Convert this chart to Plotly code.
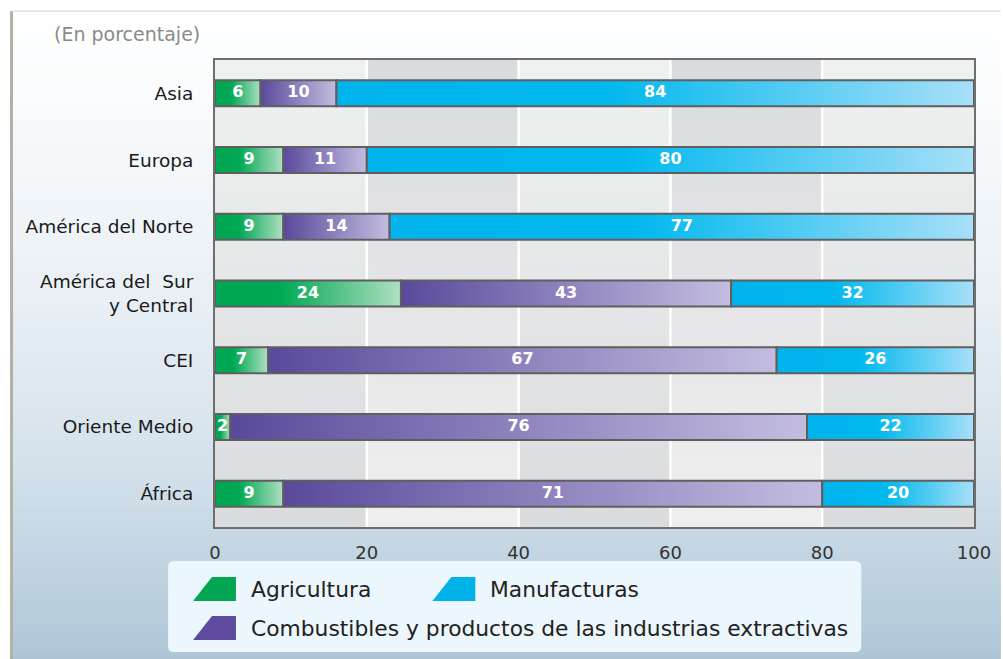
import plotly.graph_objects as go

# ---------------- data ----------------
categories = ["Asia", "Europa", "América del Norte", "América del  Sur<br>y Central",
              "CEI", "Oriente Medio", "África"]
agricultura = [6, 9, 9, 24.5, 7, 2, 9]
combustibles = [10, 11, 14, 43.5, 67, 76, 71]
manufacturas = [84, 80, 77, 32, 26, 22, 20]
agricultura_labels = ["6", "9", "9", "24", "7", "2", "9"]
combustibles_labels = ["10", "11", "14", "43", "67", "76", "71"]
manufacturas_labels = ["84", "80", "77", "32", "26", "22", "20"]
series_names = ["Agricultura", "Combustibles y productos de las industrias extractivas", "Manufacturas"]
x_ticks = [0, 20, 40, 60, 80, 100]
x_ticklabels = ["0", "20", "40", "60", "80", "100"]
unit_note = "(En porcentaje)"

# ---------------- geometry helpers ----------------
W, H = 1003, 659
ML, MR, MT, MB = 215, 27, 60, 132
PW, PH = W - ML - MR, H - MT - MB


def px(x):
    return (x - ML) / PW


def py(y):
    return (H - MB - y) / PH


FONT = "DejaVu Sans"
n = len(categories)
ypos = [n - 1 - i for i in range(n)]
half = 0.195

series = [
    (agricultura, agricultura_labels,
     [[0, "#00a651"], [0.35, "#00a853"], [1, "#b0dfc2"]]),
    (combustibles, combustibles_labels,
     [[0, "#5a499b"], [1, "#c4bde0"]]),
    (manufacturas, manufacturas_labels,
     [[0, "#00b3ec"], [0.42, "#00b8ee"], [1, "#a8dff8"]]),
]

fig = go.Figure()

# background columns (vertical gradients)
for k in range(len(x_ticks) - 1):
    x0, x1 = x_ticks[k], x_ticks[k + 1]
    if k % 2 == 0:
        cs = [[0, "#dadbdd"], [1, "#eff1f1"]]
    else:
        cs = [[0, "#efeff0"], [1, "#dadbdd"]]
    fig.add_trace(go.Scatter(
        x=[x0, x1, x1, x0, x0], y=[-0.5, -0.5, n - 0.5, n - 0.5, -0.5],
        mode="lines", line=dict(width=0), fill="toself",
        fillgradient=dict(type="vertical", colorscale=cs),
        hoverinfo="skip", showlegend=False))

# white separators at inner ticks
gx, gy = [], []
for t in x_ticks[1:-1]:
    gx += [t, t, None]
    gy += [-0.5, n - 0.5, None]
fig.add_trace(go.Scatter(x=gx, y=gy, mode="lines",
                         line=dict(color="white", width=2.5),
                         hoverinfo="skip", showlegend=False))

# stacked bar segments with horizontal gradients
for i in range(n):
    start = 0
    for vals, labs, cs in series:
        v = vals[i]
        x0, x1 = start, start + v
        yc = ypos[i]
        fig.add_trace(go.Scatter(
            x=[x0, x1, x1, x0, x0],
            y=[yc - half, yc - half, yc + half, yc + half, yc - half],
            mode="lines", line=dict(color="#5f5f5f", width=2), fill="toself",
            fillgradient=dict(type="horizontal", colorscale=cs),
            hoverinfo="skip", showlegend=False))
        start = x1

# value labels
for s_idx, (vals, labs, cs) in enumerate(series):
    xs = []
    for i in range(n):
        before = sum(series[j][0][i] for j in range(s_idx))
        xs.append(before + vals[i] / 2)
    fig.add_trace(go.Scatter(
        x=xs, y=ypos, mode="text", text=labs,
        textfont=dict(family=FONT, size=16, color="white", weight="bold"),
        textposition="middle center", hoverinfo="skip", showlegend=False))

# ---------------- decorations ----------------
shapes = []
# page background gradient (stripes)
stops = [(0, (255, 255, 255)), (90, (250, 252, 253)), (300, (232, 239, 245)),
         (470, (212, 225, 235)), (640, (178, 201, 217)), (659, (173, 197, 214))]


def col_at(y):
    for (y0, c0), (y1, c1) in zip(stops[:-1], stops[1:]):
        if y0 <= y <= y1:
            t = (y - y0) / (y1 - y0)
            return "rgb(%d,%d,%d)" % tuple(round(a + (b - a) * t) for a, b in zip(c0, c1))
    return "rgb(%d,%d,%d)" % stops[-1][1]


step = 6
y = 12
while y < H:
    shapes.append(dict(type="rect", xref="paper", yref="paper", layer="below",
                       x0=px(12), x1=px(W), y0=py(y), y1=py(min(y + step + 0.5, H)),
                       line=dict(width=0), fillcolor=col_at(y + step / 2)))
    y += step

# frame lines
shapes.append(dict(type="line", xref="paper", yref="paper", layer="below",
                   x0=px(11), x1=px(11), y0=py(11), y1=py(H),
                   line=dict(color="#b3b0a5", width=3)))
shapes.append(dict(type="line", xref="paper", yref="paper", layer="below",
                   x0=px(11), x1=px(W), y0=py(11), y1=py(11),
                   line=dict(color="#e2e2e2", width=1.5)))

# legend box with rounded corners
bx0, by0, bx1, by1, r = 168, 561, 863, 652, 6
path = ("M {a},{b} L {c},{b} Q {d},{b} {d},{e} L {d},{f} Q {d},{g} {c},{g} "
        "L {a},{g} Q {h},{g} {h},{f} L {h},{e} Q {h},{b} {a},{b} Z").format(
    a=px(bx0 + r), b=py(by0), c=px(bx1 - r), d=px(bx1), e=py(by0 + r),
    f=py(by1 - r), g=py(by1), h=px(bx0))
shapes.append(dict(type="path", xref="paper", yref="paper", path=path,
                   fillcolor="#ebf6fd", line=dict(width=0), layer="above"))

# legend icons + text
legend_items = [
    (series_names[0], "#00a651", 193, 577),
    (series_names[2], "#00b2ea", 433, 577),
    (series_names[1], "#5e4b9f", 193, 616),
]
annotations = []
for name, color, ix, iy in legend_items:
    p = "M {0},{1} L {2},{3} L {4},{3} L {4},{1} Z".format(
        px(ix), py(iy + 24), px(ix + 19), py(iy), px(ix + 43))
    shapes.append(dict(type="path", xref="paper", yref="paper", path=p,
                       fillcolor=color, line=dict(width=0), layer="above"))
    annotations.append(dict(text=name, xref="paper", yref="paper",
                            x=px(ix + 56), y=py(iy + 12), xanchor="left", yanchor="middle",
                            showarrow=False,
                            font=dict(family=FONT, size=21.8, color="#222222")))

annotations.append(dict(text=unit_note, xref="paper", yref="paper",
                        x=px(52), y=py(34), xanchor="left", yanchor="middle",
                        showarrow=False,
                        font=dict(family=FONT, size=19, color="#8a8a8a")))

fig.update_layout(
    width=W, height=H,
    margin=dict(l=ML, r=MR, t=MT, b=MB),
    paper_bgcolor="white", plot_bgcolor="white",
    shapes=shapes, annotations=annotations, showlegend=False,
    xaxis=dict(range=[0, 100], tickvals=x_ticks, ticktext=x_ticklabels,
               showgrid=False, zeroline=False, showline=True, mirror=True,
               linecolor="#6e6e6e", linewidth=2, ticks="outside", ticklen=8,
               tickcolor="rgba(0,0,0,0)",
               tickfont=dict(family=FONT, size=18, color="#333333"), fixedrange=True),
    yaxis=dict(range=[-0.5, n - 0.5], tickvals=ypos, ticktext=categories,
               showgrid=False, zeroline=False, showline=True, mirror=True,
               linecolor="#6e6e6e", linewidth=2, ticks="outside", ticklen=16,
               tickcolor="rgba(0,0,0,0)",
               tickfont=dict(family=FONT, size=18.5, color="#1a1a1a"), fixedrange=True),
)

fig.write_html("out.html", config={"displayModeBar": False},
               post_script="document.body.style.margin='0';document.body.style.overflow='hidden';")
